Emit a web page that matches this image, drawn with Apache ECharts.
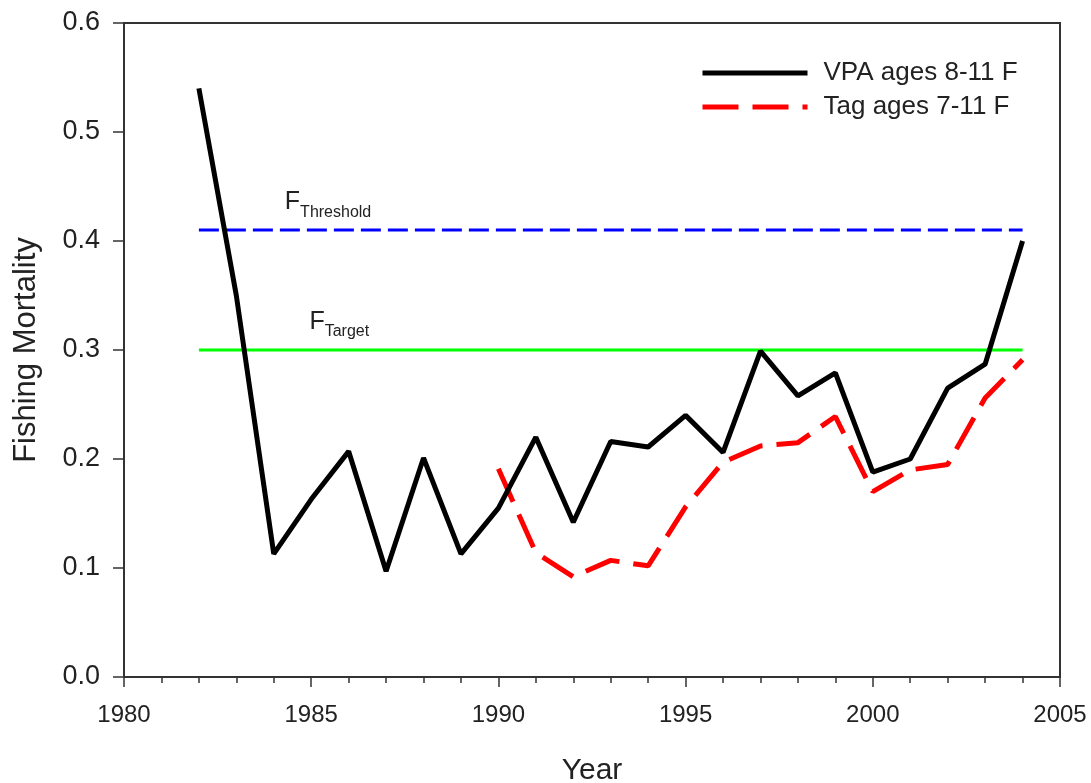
<!DOCTYPE html>
<html>
<head>
<meta charset="utf-8">
<script src="https://cdn.jsdelivr.net/npm/echarts@6/dist/echarts.min.js"></script>
<style>
  html, body { margin: 0; padding: 0; background: #fff; }
  #chart { width: 1091px; height: 783px; }
</style>
</head>
<body>
<div id="chart"></div>
<script>
// Fishing mortality estimates by year
const vpaYears = [1982, 1983, 1984, 1985, 1986, 1987, 1988, 1989, 1990, 1991, 1992, 1993,
                  1994, 1995, 1996, 1997, 1998, 1999, 2000, 2001, 2002, 2003, 2004];
const vpaF = [0.540, 0.350, 0.113, 0.163, 0.207, 0.097, 0.201, 0.113, 0.155, 0.220, 0.142, 0.216,
              0.211, 0.240, 0.206, 0.299, 0.258, 0.279, 0.188, 0.200, 0.265, 0.287, 0.400];

const tagYears = [1990, 1991, 1992, 1993, 1994, 1995, 1996, 1997, 1998, 1999, 2000, 2001, 2002, 2003, 2004];
const tagF = [0.191, 0.114, 0.092, 0.107, 0.102, 0.156, 0.197, 0.212, 0.215, 0.239, 0.170, 0.190, 0.195, 0.256, 0.291];

// Reference points
const refYears = [1982, 2004];
const fThreshold = 0.41;
const fTarget = 0.30;
const thresholdLabelYear = 1985.45;
const targetLabelYear = 1985.75;

const seriesNames = ['VPA ages 8-11 F', 'Tag ages 7-11 F'];

const xTicks = { min: 1980, max: 2005, interval: 5 };
const yTicks = { min: 0, max: 0.6, interval: 0.1 };

const pairs = (xs, ys) => xs.map((x, i) => [x, ys[i]]);
const refLine = v => refYears.map(y => [y, v]);

const textColor = '#222';
const axisColor = '#333';
const font = 'Liberation Sans, Arial, sans-serif';

const refLabel = (sub) => ({
  show: true,
  position: 'top',
  distance: 10,
  formatter: '{f|F}{s|' + sub + '}',
  rich: {
    f: { fontSize: 25, color: textColor, fontFamily: font, verticalAlign: 'top', lineHeight: 30 },
    s: { fontSize: 16, color: textColor, fontFamily: font, verticalAlign: 'bottom', lineHeight: 30 }
  }
});

const chart = echarts.init(document.getElementById('chart'), null, { renderer: 'canvas' });

chart.setOption({
  backgroundColor: '#fff',
  animation: false,
  grid: {
    left: 124, top: 23, right: 31, bottom: 106,
    outerBoundsMode: 'none',
    containLabel: false,
    show: true, borderColor: axisColor, borderWidth: 2, backgroundColor: 'transparent'
  },
  legend: {
    data: seriesNames,
    orient: 'vertical',
    left: 695,
    top: 55,
    itemWidth: 105,
    itemHeight: 20,
    itemGap: 8,
    itemStyle: { opacity: 0, borderWidth: 0 },
    lineStyle: { width: 5 },
    textStyle: { fontSize: 26, color: textColor, fontFamily: font, padding: [0, 0, 0, 11] }
  },
  xAxis: {
    type: 'value',
    min: xTicks.min, max: xTicks.max, interval: xTicks.interval,
    name: 'Year',
    nameLocation: 'middle',
    nameGap: 79,
    nameTextStyle: { fontSize: 30, color: textColor, fontFamily: font },
    axisLine: { show: true, onZero: false, lineStyle: { color: axisColor, width: 2 } },
    axisTick: { show: true, inside: false, length: 10, lineStyle: { color: axisColor, width: 1.5 } },
    minorTick: { show: true, splitNumber: 5, length: 6, lineStyle: { color: axisColor, width: 1.5 } },
    axisLabel: { fontSize: 24, color: textColor, fontFamily: font, margin: 26, formatter: v => String(v) },
    splitLine: { show: false }
  },
  yAxis: {
    type: 'value',
    min: yTicks.min, max: yTicks.max, interval: yTicks.interval,
    name: 'Fishing Mortality',
    nameLocation: 'middle',
    nameGap: 82,
    nameRotate: 90,
    nameTextStyle: { fontSize: 31, color: textColor, fontFamily: font },
    axisLine: { show: true, lineStyle: { color: axisColor, width: 2 } },
    axisTick: { show: true, inside: false, length: 11, lineStyle: { color: axisColor, width: 1.5 } },
    axisLabel: {
      fontSize: 27, color: textColor, fontFamily: font, margin: 24,
      formatter: v => v.toFixed(1)
    },
    splitLine: { show: false }
  },
  series: [
    {
      name: 'F threshold',
      type: 'line',
      data: refLine(fThreshold),
      symbol: 'none',
      silent: true,
      lineStyle: { color: '#0000ff', width: 3, type: [20, 7] },
      markPoint: {
        symbol: 'circle', symbolSize: 0,
        data: [{ coord: [thresholdLabelYear, fThreshold], label: refLabel('Threshold') }]
      },
      z: 1
    },
    {
      name: 'F target',
      type: 'line',
      data: refLine(fTarget),
      symbol: 'none',
      silent: true,
      lineStyle: { color: '#00ff00', width: 3 },
      markPoint: {
        symbol: 'circle', symbolSize: 0,
        data: [{ coord: [targetLabelYear, fTarget], label: refLabel('Target') }]
      },
      z: 1
    },
    {
      name: seriesNames[1],
      type: 'line',
      data: pairs(tagYears, tagF),
      symbol: 'none',
      lineStyle: { color: '#ff0000', width: 5, type: [36, 14] },
      itemStyle: { color: '#ff0000' },
      z: 2
    },
    {
      name: seriesNames[0],
      type: 'line',
      data: pairs(vpaYears, vpaF),
      symbol: 'none',
      lineStyle: { color: '#000000', width: 5 },
      itemStyle: { color: '#000000' },
      z: 3
    }
  ]
});
</script>
</body>
</html>
